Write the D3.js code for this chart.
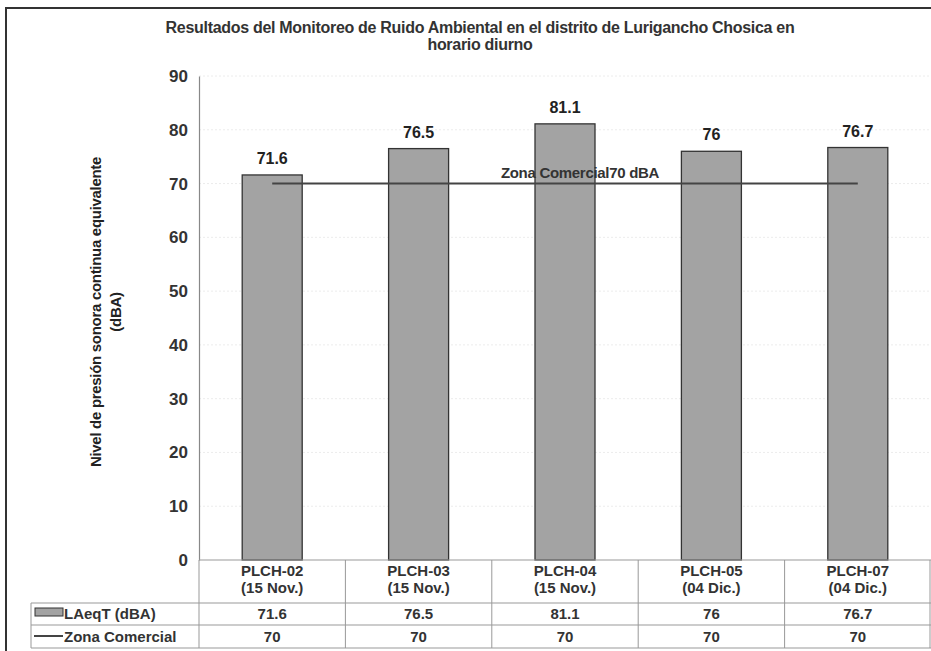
<!DOCTYPE html>
<html><head><meta charset="utf-8">
<script src="https://cdn.jsdelivr.net/npm/d3@7"></script>
<style>
html,body{margin:0;padding:0;background:#fff;}
svg{display:block;font-family:"Liberation Sans",Arial,sans-serif;}
</style></head>
<body>
<svg id="c" width="931" height="651"></svg>
<script>
const categories = [["PLCH-02","(15 Nov.)"],["PLCH-03","(15 Nov.)"],["PLCH-04","(15 Nov.)"],["PLCH-05","(04 Dic.)"],["PLCH-07","(04 Dic.)"]];
const laeqValues = [71.6, 76.5, 81.1, 76, 76.7];
const zonaValues = [70, 70, 70, 70, 70];
const yTicks = [0,10,20,30,40,50,60,70,80,90];
const seriesNames = ["LAeqT (dBA)", "Zona Comercial"];
const titleLines = ["Resultados del Monitoreo de Ruido  Ambiental en el distrito de Lurigancho Chosica en","horario diurno"];
const yLabelLines = ["Nivel de presión sonora continua equivalente","(dBA)"];
const lineLabel = "Zona Comercial70 dBA";

(function(){
const svg = d3.select("#c");
const pLeft = 199, pRight = 931, pTop = 76, pBottom = 560;
const x = d3.scaleBand().domain(d3.range(categories.length)).range([pLeft, pRight]).paddingInner(0).paddingOuter(0);
const y = d3.scaleLinear().domain([0, 90]).range([pBottom, pTop]);

// outer border
svg.append("path").attr("d","M6,651 V8 H931").attr("fill","none").attr("stroke","#333").attr("stroke-width",2);

// title
svg.append("g").selectAll("text").data(titleLines).join("text")
  .attr("x", 480).attr("y",(d,i)=>33+i*17).attr("text-anchor","middle")
  .attr("font-size",16).attr("font-weight","bold").attr("fill","#333").attr("letter-spacing",-0.3).text(d=>d);

// gridlines
svg.append("g").selectAll("line").data(yTicks.filter(t=>t>0)).join("line")
  .attr("x1",pLeft).attr("x2",pRight).attr("y1",d=>y(d)).attr("y2",d=>y(d))
  .attr("stroke","#ececec").attr("stroke-dasharray","2,2");

// y axis
const yAxis = d3.axisLeft(y).tickValues(yTicks).tickSize(0).tickPadding(11);
const ya = svg.append("g").attr("transform",`translate(${pLeft},0)`).call(yAxis);
ya.select(".domain").attr("stroke","#888").attr("stroke-width",1.2);
ya.selectAll("text").attr("font-size",17).attr("font-weight","bold").attr("fill","#333")
  .attr("font-family",'"Liberation Sans",Arial,sans-serif');

// y label
const yl = svg.append("g").attr("transform","translate(101,312) rotate(-90)");
yl.selectAll("text").data(yLabelLines).join("text")
  .attr("x",0).attr("y",(d,i)=>i*20).attr("text-anchor","middle")
  .attr("font-size",15).attr("font-weight","bold").attr("fill","#222").attr("letter-spacing",-0.3).text(d=>d);

// bars
const bw = 60;
svg.append("g").selectAll("rect").data(laeqValues).join("rect")
  .attr("x",(d,i)=>x(i)+x.bandwidth()/2-bw/2).attr("width",bw)
  .attr("y",d=>y(d)).attr("height",d=>y(0)-y(d))
  .attr("fill","#a3a3a3").attr("stroke","#333").attr("stroke-width",1.3);

// value labels
svg.append("g").selectAll("text").data(laeqValues).join("text")
  .attr("x",(d,i)=>x(i)+x.bandwidth()/2).attr("y",d=>y(d)-11)
  .attr("text-anchor","middle").attr("font-size",16).attr("font-weight","bold").attr("fill","#222")
  .text(d=>d);

// zona line
const line = d3.line().x((d,i)=>x(i)+x.bandwidth()/2).y(d=>y(d));
svg.append("path").datum(zonaValues).attr("d",line).attr("fill","none").attr("stroke","#444").attr("stroke-width",2);
svg.append("text").attr("x",580).attr("y",y(zonaValues[2])-6).attr("text-anchor","middle")
  .attr("font-size",15).attr("font-weight","bold").attr("fill","#333").attr("letter-spacing",-0.3).text(lineLabel);

// data table
const rowY = [560, 603, 625, 648];
const tableLeft = 31;
const tg = svg.append("g");
const gridColor = "#999";
tg.append("line").attr("x1",pLeft).attr("x2",pRight).attr("y1",rowY[0]).attr("y2",rowY[0]).attr("stroke",gridColor);
[1,2,3].forEach(r=>{
  tg.append("line").attr("x1",tableLeft).attr("x2",pRight).attr("y1",rowY[r]).attr("y2",rowY[r]).attr("stroke",gridColor);
});
tg.append("line").attr("x1",tableLeft).attr("x2",tableLeft).attr("y1",rowY[1]).attr("y2",rowY[3]).attr("stroke",gridColor);
d3.range(categories.length+1).forEach(i=>{
  const xx = i<categories.length ? x(i) : pRight-1;
  tg.append("line").attr("x1",xx).attr("x2",xx).attr("y1",rowY[0]).attr("y2",rowY[3]).attr("stroke",gridColor);
});

// category labels
categories.forEach((c,i)=>{
  tg.append("text").attr("text-anchor","middle")
    .attr("font-size",15).attr("font-weight","bold").attr("fill","#333")
    .selectAll("tspan").data(c).join("tspan")
    .attr("x",x(i)+x.bandwidth()/2).attr("y",(d,k)=>576+k*17).text(d=>d);
});
tg.append("g").selectAll("text").data(laeqValues).join("text")
  .attr("x",(d,i)=>x(i)+x.bandwidth()/2).attr("y",619).attr("text-anchor","middle")
  .attr("font-size",15).attr("font-weight","bold").attr("fill","#333").text(d=>d);
tg.append("g").selectAll("text").data(zonaValues).join("text")
  .attr("x",(d,i)=>x(i)+x.bandwidth()/2).attr("y",642).attr("text-anchor","middle")
  .attr("font-size",15).attr("font-weight","bold").attr("fill","#333").text(d=>d);
// legend keys
tg.append("rect").attr("x",35).attr("y",608).attr("width",28).attr("height",8)
  .attr("fill","#a3a3a3").attr("stroke","#333");
tg.append("line").attr("x1",34).attr("x2",63).attr("y1",636).attr("y2",636).attr("stroke","#444").attr("stroke-width",2);
tg.selectAll("text.leg").data(seriesNames).join("text").attr("class","leg")
  .attr("x",64).attr("y",(d,i)=>619+i*23).attr("font-size",15).attr("font-weight","bold").attr("fill","#333").text(d=>d);
})();
</script>
</body></html>
